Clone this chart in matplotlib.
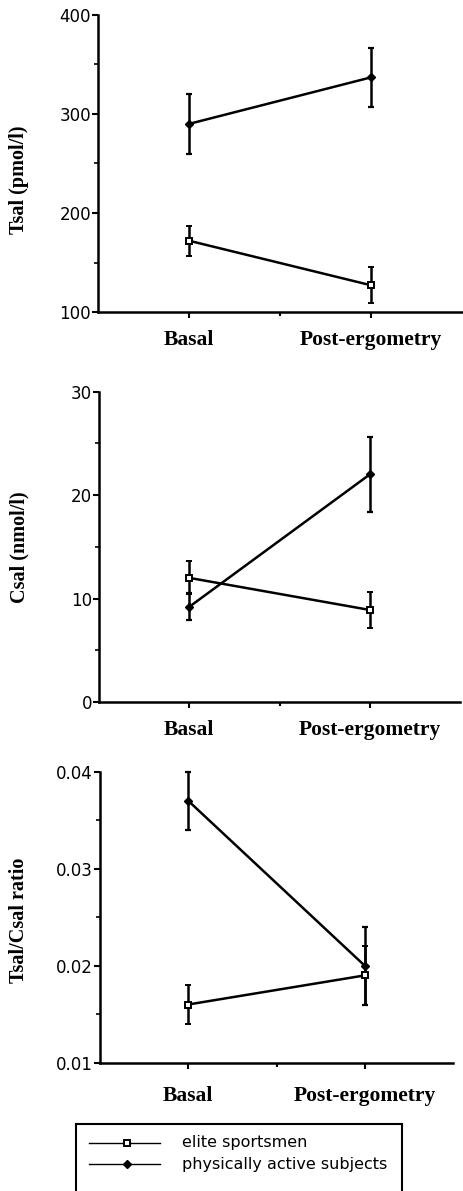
import matplotlib
matplotlib.use("Agg")
import matplotlib.pyplot as plt

# conditions on the x axis
conditions = ["Basal", "Post-ergometry"]
cond_pos = [1, 2]

# Tsal (pmol/l)
tsal_elite = [172, 127]
tsal_elite_err = [15, 18]
tsal_active = [290, 337]
tsal_active_err = [30, 30]

# Csal (nmol/l)
csal_elite = [12.0, 8.9]
csal_elite_err = [1.6, 1.7]
csal_active = [9.2, 22.0]
csal_active_err = [1.3, 3.6]

# Tsal/Csal ratio
ratio_elite = [0.016, 0.019]
ratio_elite_err = [0.002, 0.003]
ratio_active = [0.037, 0.020]
ratio_active_err = [0.003, 0.004]

series_labels = ["elite sportsmen", "physically active subjects"]

SERIF = "Liberation Serif"
SANS = "DejaVu Sans"

fig = plt.figure(figsize=(4.63, 11.91), dpi=100)
fig.patch.set_facecolor("white")

# rect, data, y range, ticks, label, label y, x tick pad
panels = [
    ([98 / 463, 1 - 312 / 1191, 364 / 463, 297 / 1191],
     tsal_elite, tsal_elite_err, tsal_active, tsal_active_err,
     (100, 400), [100, 200, 300, 400], [150, 250, 350], ["100", "200", "300", "400"],
     "Tsal (pmol/l)", 0.444, 9),
    ([99 / 463, 1 - 702 / 1191, 361 / 463, 310.3 / 1191],
     csal_elite, csal_elite_err, csal_active, csal_active_err,
     (0, 30), [0, 10, 20, 30], [5, 15, 25], ["0", "10", "20", "30"],
     "Csal (nmol/l)", 0.5, 9),
    ([100 / 463, 1 - 1062.7 / 1191, 353 / 463, 291 / 1191],
     ratio_elite, ratio_elite_err, ratio_active, ratio_active_err,
     (0.01, 0.04), [0.01, 0.02, 0.03, 0.04], [0.015, 0.025, 0.035],
     ["0.01", "0.02", "0.03", "0.04"],
     "Tsal/Csal ratio", 0.49, 13),
]

for rect, elite, elite_err, active, active_err, ylim, yt, ymt, ytl, ylabel, label_y, xpad in panels:
    ax = fig.add_axes(rect)
    ax.errorbar(cond_pos, active, yerr=active_err, color="black", lw=1.8,
                marker="D", markersize=4, mfc="black", mec="black",
                ecolor="black", elinewidth=1.8, capsize=2.5, capthick=1.6, clip_on=False)
    ax.errorbar(cond_pos, elite, yerr=elite_err, color="black", lw=1.8,
                marker="s", markersize=5, mfc="white", mec="black", mew=1.4,
                ecolor="black", elinewidth=1.8, capsize=2.5, capthick=1.6, clip_on=False)
    ax.set_xlim(0.5, 2.5)
    ax.set_ylim(*ylim)
    ax.set_xticks(cond_pos)
    ax.set_xticks([1.5], minor=True)
    ax.set_xticklabels(conditions, fontfamily=SERIF, fontweight="bold", fontsize=15.5)
    ax.set_yticks(yt)
    ax.set_yticks(ymt, minor=True)
    ax.set_yticklabels(ytl, fontfamily=SANS, fontsize=12)
    ax.tick_params(axis="x", which="major", length=4, width=1.5, pad=xpad)
    ax.tick_params(axis="x", which="minor", length=3, width=1.5)
    ax.tick_params(axis="y", which="major", length=4, width=1.5, pad=1)
    ax.tick_params(axis="y", which="minor", length=3, width=1.2)
    for side in ["top", "right"]:
        ax.spines[side].set_visible(False)
    for side in ["left", "bottom"]:
        ax.spines[side].set_linewidth(1.8)
    ax.set_ylabel(ylabel, fontfamily=SERIF, fontweight="bold", fontsize=14.5)
    ax.yaxis.set_label_coords(-(rect[0] * 463 - 29) / (rect[2] * 463), label_y)

# legend box, partly cut at the bottom edge like the scan
leg = fig.add_axes([76 / 463, (1191 - 1240) / 1191, 326 / 463, 116 / 1191])
leg.set_xlim(76, 402)
leg.set_ylim(1240, 1124)
leg.set_xticks([])
leg.set_yticks([])
for sp in leg.spines.values():
    sp.set_linewidth(1.5)
leg.plot([89, 160], [1143, 1143], color="black", lw=1)
leg.plot([127], [1143], marker="s", markersize=5, mfc="white", mec="black", mew=1.4)
leg.plot([89, 160], [1164, 1164], color="black", lw=1)
leg.plot([127], [1164], marker="D", markersize=4, color="black")
leg.text(182, 1143, series_labels[0], fontfamily=SANS, fontsize=11.5, va="center")
leg.text(182, 1164, series_labels[1], fontfamily=SANS, fontsize=11.5, va="center")

fig.savefig("out.png", dpi=100)
